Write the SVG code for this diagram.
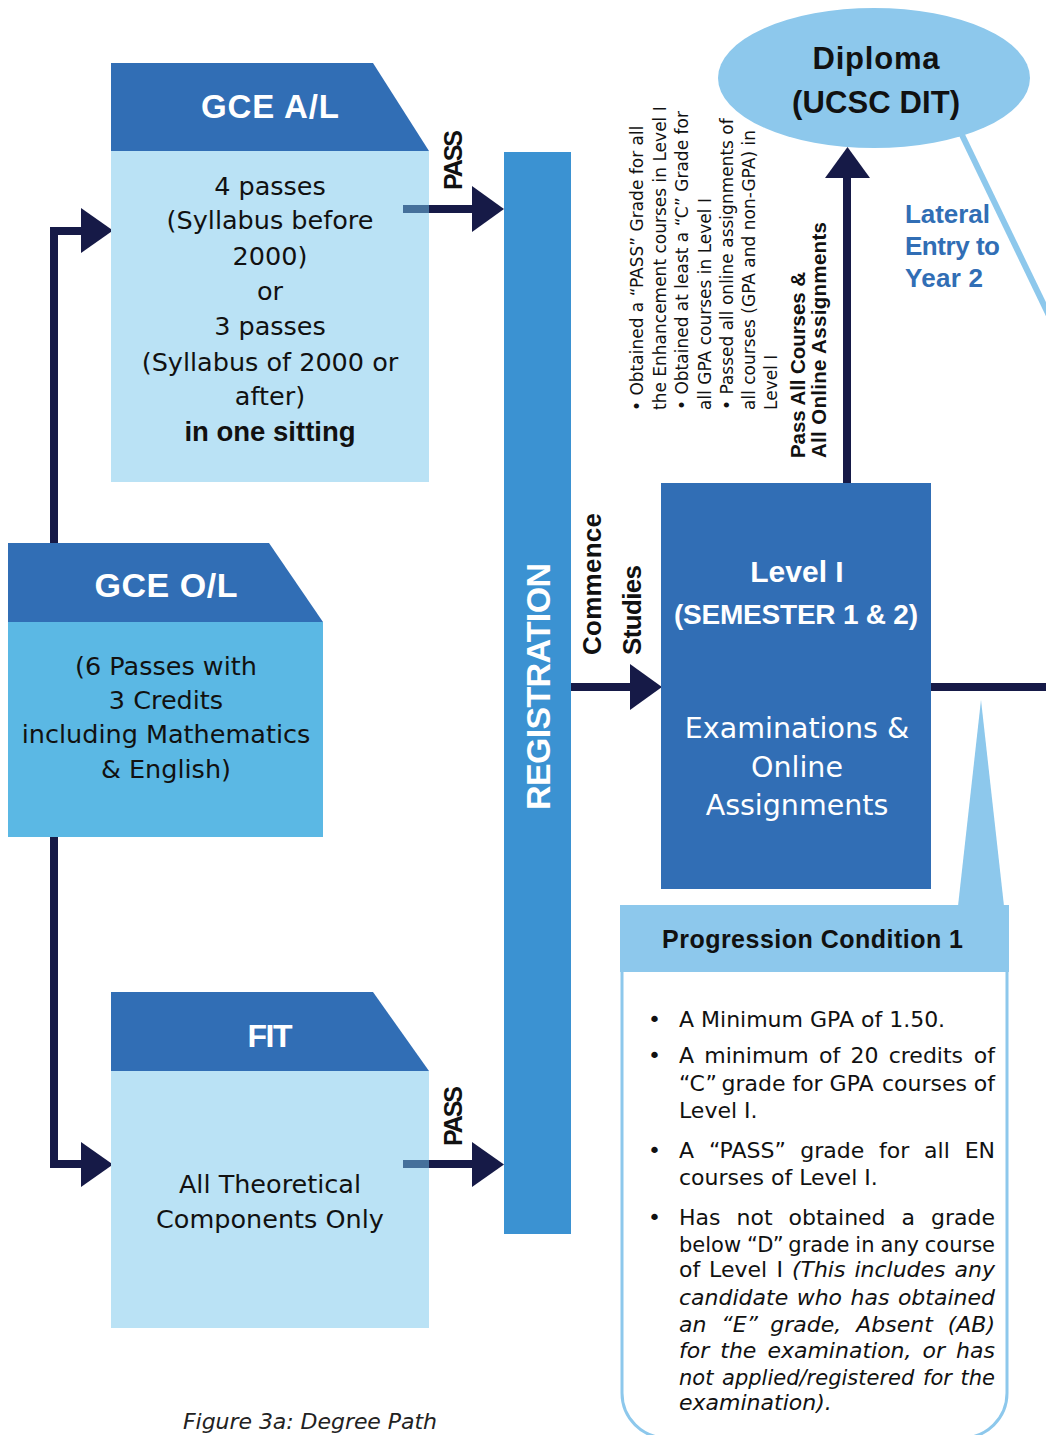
<svg xmlns="http://www.w3.org/2000/svg" width="1046" height="1435" viewBox="0 0 1046 1435">
<style>
.hdr{fill:#316EB5}
.lt{fill:#BAE2F5}
.ol{fill:#5BB8E4}
.reg{fill:#3B92D2}
.nv{fill:#161A47}
.sky{fill:#8DC8EC}
.ttl{font-family:"Liberation Sans",Arial,sans-serif;font-weight:bold;fill:#fff}
.bd{font-family:"DejaVu Sans","Liberation Sans",sans-serif;fill:#111}
.bb{font-family:"Liberation Sans",Arial,sans-serif;font-weight:bold;fill:#111}
.wt{font-family:"DejaVu Sans","Liberation Sans",sans-serif;fill:#fff}
.lat{font-family:"Liberation Sans",Arial,sans-serif;font-weight:bold;fill:#316EB5}
.it{font-style:italic}
.e{text-anchor:end}
.m{text-anchor:middle}
</style>

<g id="connectors">
  <rect class="nv" x="50" y="227" width="8" height="941"/>
  <rect class="nv" x="50" y="227" width="33" height="8"/>
  <polygon class="nv" points="81,208 81,253 113,230.5"/>
  <rect class="nv" x="50" y="1160" width="33" height="8"/>
  <polygon class="nv" points="81,1142 81,1187 113,1164.5"/>
  <rect class="nv" x="429" y="205" width="45" height="8"/>
  <polygon class="nv" points="472,186 472,232 504,209"/>
  <rect class="nv" x="429" y="1160" width="45" height="8"/>
  <polygon class="nv" points="472,1142 472,1187 504,1164.5"/>
  <rect class="nv" x="571" y="683" width="61" height="8"/>
  <polygon class="nv" points="630,664 630,710 662,687"/>
  <rect class="nv" x="931" y="683" width="115" height="8"/>
  <rect class="nv" x="843" y="176" width="8" height="307"/>
  <polygon class="nv" points="825,178 870,178 847.5,147"/>
  <line x1="962" y1="135" x2="1056" y2="330" stroke="#8DC8EC" stroke-width="6"/>
  <polygon class="sky" points="981,700 958,906 1004,906"/>
</g>

<g id="gce-al">
  <polygon class="hdr" points="111,63 373,63 429,151 111,151"/>
  <rect class="lt" x="111" y="151" width="318" height="331"/>
  <text class="ttl m" x="270" y="118" font-size="33" textLength="138">GCE A/L</text>
  <g class="bd m" font-size="25.5">
    <text x="270" y="195">4 passes</text>
    <text x="270" y="229">(Syllabus before</text>
    <text x="270" y="265">2000)</text>
    <text x="270" y="300">or</text>
    <text x="270" y="335">3 passes</text>
    <text x="270" y="371">(Syllabus of 2000 or</text>
    <text x="270" y="405">after)</text>
  </g>
  <text class="bb m" x="270" y="441" font-size="27.5">in one sitting</text>
  <rect x="403" y="205" width="26" height="8" fill="#45709B"/>
</g>

<g id="gce-ol">
  <polygon class="hdr" points="8,543 269,543 323,622 8,622"/>
  <rect class="ol" x="8" y="622" width="315" height="215"/>
  <text class="ttl m" x="166" y="597" font-size="34" textLength="143">GCE O/L</text>
  <g class="bd m" font-size="25.5">
    <text x="166" y="675">(6 Passes with</text>
    <text x="166" y="709">3 Credits</text>
    <text x="166" y="743">including Mathematics</text>
    <text x="166" y="778">&amp; English)</text>
  </g>
</g>

<g id="fit">
  <polygon class="hdr" points="111,992 373,992 429,1071 111,1071"/>
  <rect class="lt" x="111" y="1071" width="318" height="257"/>
  <text class="ttl m" x="270" y="1047" font-size="32" textLength="45">FIT</text>
  <g class="bd m" font-size="25.5">
    <text x="270" y="1193">All Theoretical</text>
    <text x="270" y="1228">Components Only</text>
  </g>
  <rect x="403" y="1160" width="26" height="8" fill="#45709B"/>
</g>

<g id="pass-labels">
  <text class="bb m" font-size="25" textLength="60" transform="translate(462,160) rotate(-90)">PASS</text>
  <text class="bb m" font-size="25" textLength="60" transform="translate(462,1116) rotate(-90)">PASS</text>
</g>

<g id="registration">
  <rect class="reg" x="504" y="152" width="67" height="1082"/>
  <text class="ttl m" font-size="34" textLength="247" transform="translate(550,686.5) rotate(-90)">REGISTRATION</text>
</g>

<g id="commence-label">
  <text class="bb" font-size="26" textLength="142" transform="translate(601,655) rotate(-90)">Commence</text>
  <text class="bb" font-size="26" textLength="90" transform="translate(641,655) rotate(-90)">Studies</text>
</g>

<g id="level1">
  <rect class="hdr" x="661" y="483" width="270" height="406"/>
  <text class="ttl m" x="797" y="582" font-size="30">Level I</text>
  <text class="ttl m" x="796" y="624" font-size="28" textLength="244">(SEMESTER 1 &amp; 2)</text>
  <g class="wt m" font-size="28.5">
    <text x="797" y="738">Examinations &amp;</text>
    <text x="797" y="777">Online</text>
    <text x="797" y="815">Assignments</text>
  </g>
</g>

<g id="diploma">
  <ellipse class="sky" cx="874" cy="78" rx="156" ry="70"/>
  <text class="bb m" x="876" y="69" font-size="31" textLength="127">Diploma</text>
  <text class="bb m" x="876" y="113" font-size="31" textLength="168">(UCSC DIT)</text>
</g>

<g id="lateral-label">
  <text class="lat" x="905" y="223" font-size="26" textLength="85">Lateral</text>
  <text class="lat" x="905" y="255" font-size="26" textLength="95">Entry to</text>
  <text class="lat" x="905" y="287" font-size="26" textLength="78">Year 2</text>
</g>

<g id="diploma-conditions" class="bd" font-size="17">
  <text transform="translate(643,411) rotate(-90)">• Obtained a “PASS” Grade for all</text>
  <text transform="translate(666,410) rotate(-90)">the Enhancement courses in Level I</text>
  <text transform="translate(688,410) rotate(-90)">• Obtained at least a “C” Grade for</text>
  <text transform="translate(711,410) rotate(-90)">all GPA courses in Level I</text>
  <text transform="translate(733,410) rotate(-90)">• Passed all online assignments of</text>
  <text transform="translate(755,410) rotate(-90)">all courses (GPA and non-GPA) in</text>
  <text transform="translate(777,410) rotate(-90)">Level I</text>
</g>
<g id="diploma-label">
  <text class="bb" font-size="20.5" textLength="186" transform="translate(805,458) rotate(-90)">Pass All Courses &amp;</text>
  <text class="bb" font-size="20.5" textLength="236" transform="translate(826,458) rotate(-90)">All Online Assignments</text>
</g>

<g id="progression-condition-1">
  <path d="M622 972 V1393 A45 45 0 0 0 667 1438 H962 A45 45 0 0 0 1007 1393 V972" fill="#fff" stroke="#8DC8EC" stroke-width="3"/>
  <rect class="sky" x="620" y="905" width="389" height="67"/>
  <text class="bb" x="662" y="948" font-size="25" textLength="301">Progression Condition 1</text>
  <g class="bd" font-size="22">
    <text x="648" y="1027">•</text>
    <text x="648" y="1063">•</text>
    <text x="648" y="1158">•</text>
    <text x="648" y="1225">•</text>
    <text x="679" y="1027">A Minimum GPA of 1.50.</text>
    <text y="1063"><tspan x="679">A</tspan><tspan x="704.3">minimum</tspan><tspan x="819">of</tspan><tspan x="850.5">20</tspan><tspan x="888.7">credits</tspan><tspan x="995" class="e">of</tspan></text>
    <text y="1091"><tspan x="679">“C”</tspan><tspan x="721.5">grade</tspan><tspan x="792.4">for</tspan><tspan x="829.6">GPA</tspan><tspan x="881.9">courses</tspan><tspan x="995" class="e">of</tspan></text>
    <text x="679" y="1118">Level I.</text>
    <text y="1158"><tspan x="679">A</tspan><tspan x="708.9">“PASS”</tspan><tspan x="800.2">grade</tspan><tspan x="879">for</tspan><tspan x="924.1">all</tspan><tspan x="995" class="e">EN</tspan></text>
    <text x="679" y="1185">courses of Level I.</text>
    <text y="1225"><tspan x="679">Has</tspan><tspan x="736.5">not</tspan><tspan x="788.5">obtained</tspan><tspan x="901.6">a</tspan><tspan x="995" class="e">grade</tspan></text>
    <text y="1252" font-size="21"><tspan x="679">below</tspan><tspan x="747">“D”</tspan><tspan x="788.3">grade</tspan><tspan x="855.3">in</tspan><tspan x="880.4">any</tspan><tspan x="995" class="e">course</tspan></text>
    <text y="1277"><tspan x="679">of</tspan><tspan x="709.1">Level</tspan><tspan x="776.5">I</tspan><tspan x="791.9" class="it">(This</tspan><tspan x="854.4" class="it">includes</tspan><tspan x="995" class="it e">any</tspan></text>
    <text y="1305" class="it"><tspan x="679">candidate</tspan><tspan x="796.7">who</tspan><tspan x="850.6">has</tspan><tspan x="995" class="e">obtained</tspan></text>
    <text y="1332" class="it"><tspan x="679">an</tspan><tspan x="721.3">“E”</tspan><tspan x="770.3">grade,</tspan><tspan x="856.2">Absent</tspan><tspan x="995" class="e">(AB)</tspan></text>
    <text y="1358" class="it"><tspan x="679">for</tspan><tspan x="720.3">the</tspan><tspan x="767.4">examination,</tspan><tspan x="922.6">or</tspan><tspan x="995" class="e">has</tspan></text>
    <text y="1385" class="it" font-size="21"><tspan x="679">not</tspan><tspan x="722.1">applied/registered</tspan><tspan x="923">for</tspan><tspan x="995" class="e">the</tspan></text>
    <text x="679" y="1410" class="it">examination).</text>
  </g>
</g>

<g id="caption">
  <text class="bd it" x="183" y="1429" font-size="22" font-weight="300" style="fill:#222" textLength="254">Figure 3a: Degree Path</text>
</g>
</svg>
